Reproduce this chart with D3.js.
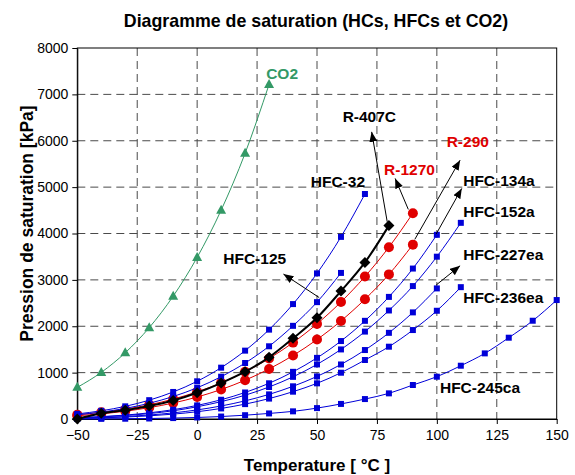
<!DOCTYPE html>
<html><head><meta charset="utf-8">
<script src="https://cdn.jsdelivr.net/npm/d3@7"></script>
<style>
body{margin:0;background:#fff}
svg{display:block}
text{font-family:"Liberation Sans",Arial,Helvetica,sans-serif}
</style>
</head><body><svg id="chart" width="575" height="475"></svg>
<script>
// ---------- data (temperatures in °C, pressures in kPa) ----------
const temperatures = [-50,-40,-30,-20,-10,0,10,20,30,40,50,60,70,80,90,100,110,120,130,140,150];
const co2      = [682,1005,1428,1969,2649,3485,4502,5729,7214];
const hfc32    = [110,177,273,406,583,813,1107,1474,1927,2478,3140,3927,4852];
const hfc125   = [92,148,229,339,485,673,912,1207,1568,2009,2520,3150];
const r407c    = [0,125,190,280,400,567,775,1020,1330,1739,2183,2759,3377,4170];
const r1270    = [90,143,212,306,429,585,779,1017,1304,1647,2051,2523,3071,3705,4437];
const r290     = [71,111,168,245,345,474,636,836,1079,1369,1713,2115,2582,3118,3760];
const hfc134a  = [30,51,84,133,201,293,415,572,770,1017,1318,1681,2117,2633,3244,3972];
const hfc152a  = [26,45,75,117,177,264,374,513,690,909,1177,1500,1885,2340,2866,3500,4230];
const hfc227ea = [16,30,52,86,132,196,281,391,531,705,918,1176,1487,1858,2299,2816];
const hfc236ea = [14,25,42,68,105,157,228,321,440,589,769,998,1272,1559,1918,2334,2843];
const hfc245ca = [2,3,6,11,20,33,53,82,120,165,235,325,430,553,733,912,1149,1415,1753,2119,2565];
const xTicks = [-50,-25,0,25,50,75,100,125,150];
const yTicks = [0,1000,2000,3000,4000,5000,6000,7000,8000];
const seriesNames = ["CO2","R-1270","R-290","HFC-32","HFC-125","HFC-134a","HFC-152a","HFC-227ea","HFC-236ea","HFC-245ca","R-407C"];
const seriesValues = [co2,r1270,r290,hfc32,hfc125,hfc134a,hfc152a,hfc227ea,hfc236ea,hfc245ca,r407c];
const title = "Diagramme de saturation (HCs, HFCs et CO2)";
const xTitle = "Temperature [ °C ]";
const yTitle = "Pression de saturation [kPa]";

// ---------- layout ----------
const W = 575, H = 475;
const m = {top:48, right:18.3, bottom:56, left:77.3};
const svg = d3.select("#chart");
const x = d3.scaleLinear().domain([-50,150]).range([m.left, W - m.right]);
const y = d3.scaleLinear().domain([0,8000]).range([H - m.bottom, m.top]);

const styles = {
  "CO2":      {color:"#339966", marker:"triangle", width:1},
  "R-1270":   {color:"#e00000", marker:"circle", width:1},
  "R-290":    {color:"#e00000", marker:"circle", width:1},
  "HFC-32":   {color:"#0000d8", marker:"square", width:1},
  "HFC-125":  {color:"#0000d8", marker:"square", width:1},
  "HFC-134a": {color:"#0000d8", marker:"square", width:1},
  "HFC-152a": {color:"#0000d8", marker:"square", width:1},
  "HFC-227ea":{color:"#0000d8", marker:"square", width:1},
  "HFC-236ea":{color:"#0000d8", marker:"square", width:1},
  "HFC-245ca":{color:"#0000d8", marker:"square", width:1},
  "R-407C":   {color:"#000000", marker:"diamond", width:2}
};

// grid
const grid = svg.append("g");
grid.selectAll("line.v").data(xTicks.slice(1,-1)).join("line")
  .attr("x1", d => x(d)).attr("x2", d => x(d))
  .attr("y1", m.top).attr("y2", H - m.bottom)
  .attr("stroke", "#4a4a4a").attr("stroke-width", 1).attr("stroke-dasharray", "8,5");
grid.selectAll("line.h").data(yTicks.slice(1,-1)).join("line")
  .attr("y1", d => y(d)).attr("y2", d => y(d))
  .attr("x1", m.left).attr("x2", W - m.right)
  .attr("stroke", "#4a4a4a").attr("stroke-width", 1).attr("stroke-dasharray", "8,5");

// frame
svg.append("rect").attr("x", m.left).attr("y", m.top)
  .attr("width", W - m.right - m.left).attr("height", H - m.bottom - m.top)
  .attr("fill", "none").attr("stroke", "#000").attr("stroke-width", 1);

// axes
const xAxis = svg.append("g").attr("transform", `translate(0,${H - m.bottom})`)
  .call(d3.axisBottom(x).tickValues(xTicks).tickSize(5).tickSizeOuter(0).tickPadding(6).tickFormat(d3.format("d")));
const yAxis = svg.append("g").attr("transform", `translate(${m.left},0)`)
  .call(d3.axisLeft(y).tickValues(yTicks).tickSize(5).tickSizeOuter(0).tickPadding(4).tickFormat(d3.format("d")));
[xAxis, yAxis].forEach(a => {
  a.select(".domain").attr("stroke", "#000");
  a.selectAll("line").attr("stroke", "#000");
  a.selectAll("text").attr("font-size", 14).attr("fill", "#000")
    .attr("font-family", '"Liberation Sans",Arial,sans-serif');
});

// titles
svg.append("text").attr("x", 316).attr("y", 27).attr("text-anchor", "middle")
  .attr("font-size", 17.8).attr("font-weight", "bold").text(title);
svg.append("text").attr("x", (m.left + W - m.right) / 2).attr("y", 471).attr("text-anchor", "middle")
  .attr("font-size", 17).attr("font-weight", "bold").text(xTitle);
svg.append("text").attr("transform", `translate(33,${(m.top + H - m.bottom) / 2 - 10}) rotate(-90)`)
  .attr("text-anchor", "middle").attr("font-size", 17.5).attr("font-weight", "bold").text(yTitle);

// series
const line = d3.line().x(d => x(d.t)).y(d => y(d.p)).curve(d3.curveMonotoneX);
const markerPath = {
  square:   "M-3,-3H3V3H-3Z",
  circle:   "M-5,0A5,5 0 1,0 5,0A5,5 0 1,0 -5,0Z",
  diamond:  "M0,-5.5L5.5,0L0,5.5L-5.5,0Z",
  triangle: "M0,-5.5L5,3.5L-5,3.5Z"
};
const plot = svg.append("g");
seriesNames.forEach((name, i) => {
  const st = styles[name];
  const pts = seriesValues[i].map((p, j) => ({t: temperatures[j], p}));
  const g = plot.append("g").attr("class", "series");
  g.append("path").datum(pts).attr("d", line)
    .attr("fill", "none").attr("stroke", st.color).attr("stroke-width", st.width);
  g.selectAll("path.mk").data(pts).join("path").attr("class", "mk")
    .attr("transform", d => `translate(${x(d.t)},${y(d.p)})`)
    .attr("d", markerPath[st.marker]).attr("fill", st.color);
});

// annotations (data coordinates)
const defs = svg.append("defs");
defs.append("marker").attr("id", "ah").attr("viewBox", "0 0 10 8")
  .attr("refX", 10).attr("refY", 4).attr("markerWidth", 10).attr("markerHeight", 8)
  .attr("markerUnits", "userSpaceOnUse").attr("orient", "auto")
  .append("path").attr("d", "M0,0L10,4L0,8Z").attr("fill", "#000");

const labels = [
  {text:"CO2",       t:28.8,  p:7328, color:"#339966"},
  {text:"R-407C",    t:60.7,  p:6394, color:"#000"},
  {text:"HFC-32",    t:47.4,  p:5006, color:"#000"},
  {text:"R-1270",    t:78.0,  p:5259, color:"#e00000"},
  {text:"R-290",     t:104.1, p:5869, color:"#e00000"},
  {text:"HFC-134a",  t:111,   p:5022, color:"#000"},
  {text:"HFC-152a",  t:111,   p:4360, color:"#000"},
  {text:"HFC-227ea", t:111,   p:3427, color:"#000"},
  {text:"HFC-236ea", t:111,   p:2494, color:"#000"},
  {text:"HFC-245ca", t:101.3, p:554,  color:"#000"},
  {text:"HFC-125",   t:10.9,  p:3341, color:"#000"}
];
const arrows = [
  {t1:79.3, p1:4252, t2:72.8,  p2:6192},
  {t1:88.1, p1:4519, t2:82.6,  p2:5188},
  {t1:90.8, p1:3873, t2:109.7, p2:5582},
  {t1:99.7, p1:3987, t2:110.4, p2:4972},
  {t1:99.7, p1:2888, t2:109.7, p2:3304},
  {t1:50.9, p1:2619, t2:36.0,  p2:3125}
];
svg.append("g").selectAll("line").data(arrows).join("line")
  .attr("x1", d => x(d.t1)).attr("y1", d => y(d.p1))
  .attr("x2", d => x(d.t2)).attr("y2", d => y(d.p2))
  .attr("stroke", "#000").attr("stroke-width", 1).attr("marker-end", "url(#ah)");
svg.append("g").selectAll("text").data(labels).join("text")
  .attr("x", d => x(d.t)).attr("y", d => y(d.p))
  .attr("font-size", 15.5).attr("font-weight", "bold").attr("fill", d => d.color)
  .text(d => d.text);
</script>
</body></html>
